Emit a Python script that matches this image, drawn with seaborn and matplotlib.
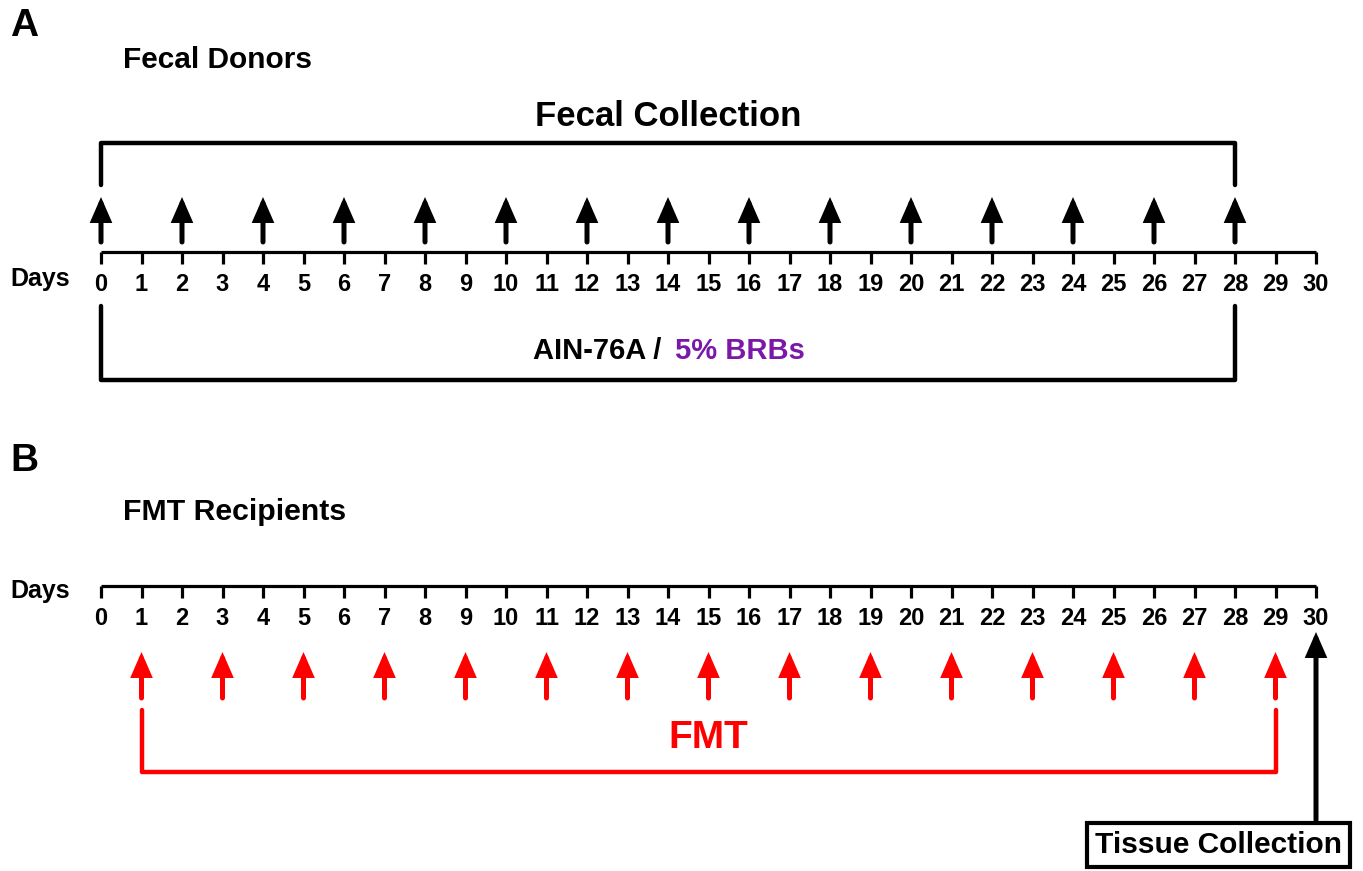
import matplotlib
matplotlib.use("Agg")
import matplotlib.pyplot as plt
import numpy as np
import seaborn as sns

# timeline data
days = list(range(0, 31))
donor_collection_days = list(range(0, 29, 2))   # fecal collection, every 2 days
diet_span = [0, 28]                              # AIN-76A / 5% BRBs feeding
fmt_days = list(range(1, 30, 2))                 # FMT gavage days
fmt_span = [1, 29]
tissue_day = 30

RED = "#FF0000"
PURPLE = "#7B18A8"

sns.set_theme(style="white")
plt.rcParams["font.family"] = ["Liberation Sans", "DejaVu Sans"]
plt.rcParams["font.weight"] = "bold"
plt.rcParams["text.color"] = "black"

fig = plt.figure(figsize=(13.63, 8.71), dpi=100)
ax = fig.add_axes([0, 0, 1, 1])

# x in days, y in pixel rows (top = 0)
X0, PPD = 101, 40.5
def px(x):
    return (x - X0) / PPD

ax.set_xlim(px(0), px(1363))
ax.set_ylim(871, 0)
ax.axis("off")


def timeline(y_axis, y_lab):
    ax.plot([days[0], days[-1]], [y_axis, y_axis], color="black", lw=2.3,
            solid_capstyle="butt")
    ax.vlines(days, y_axis, y_axis + 12, color="black", lw=2.3)
    for d in days:
        ax.text(d, y_lab, str(d), ha="center", va="center", fontsize=17,
                fontweight="bold")


def arrows(xs, y_tip, y_tail, color):
    for d in xs:
        ax.annotate("", xy=(d, y_tip + 2), xytext=(d, y_tail),
                    arrowprops=dict(arrowstyle="-|>,head_length=0.62,head_width=0.27",
                                    color=color, lw=3.6, mutation_scale=20,
                                    shrinkA=0, shrinkB=0, joinstyle="miter"))


def bracket(span, y_end, y_bar, color):
    sns.lineplot(x=[span[0], span[0], span[1], span[1]],
                 y=[y_end, y_bar, y_bar, y_end], sort=False, estimator=None,
                 color=color, lw=3.2, ax=ax)


# ---- panel A ----
ax.text(px(10), 26, "A", ha="left", va="center", fontsize=28, fontweight="bold")
ax.text(px(123), 60, "Fecal Donors", ha="left", va="center", fontsize=21.5,
        fontweight="bold")
ax.text(14, 117, "Fecal Collection", ha="center", va="center", fontsize=25,
        fontweight="bold")
bracket([donor_collection_days[0], donor_collection_days[-1]], 185, 143, "black")
arrows(donor_collection_days, 195, 242, "black")
ax.text(px(10), 279, "Days", ha="left", va="center", fontsize=18, fontweight="bold")
timeline(252, 284)
bracket(diet_span, 306, 380, "black")
ax.text(px(661), 351, "AIN-76A /", ha="right", va="center", fontsize=21,
        fontweight="bold", color="black")
ax.text(px(675), 351, "5% BRBs", ha="left", va="center", fontsize=21,
        fontweight="bold", color=PURPLE)

# ---- panel B ----
ax.text(px(10), 461, "B", ha="left", va="center", fontsize=28, fontweight="bold")
ax.text(px(123), 512, "FMT Recipients", ha="left", va="center", fontsize=21.8,
        fontweight="bold")
ax.text(px(10), 591, "Days", ha="left", va="center", fontsize=18, fontweight="bold")
timeline(586, 618)
arrows(fmt_days, 650, 698, RED)
bracket(fmt_span, 710, 772, RED)
ax.text(15, 738, "FMT", ha="center", va="center", fontsize=28,
        fontweight="bold", color=RED)

arrows([tissue_day], 630, 820, "black")
ax.text(px(1218.5), 845, "Tissue Collection", ha="center", va="center",
        fontsize=21.5, fontweight="bold",
        bbox=dict(boxstyle="square,pad=0.28", fc="white", ec="black", lw=3))

fig.savefig("out.png", dpi=100)
